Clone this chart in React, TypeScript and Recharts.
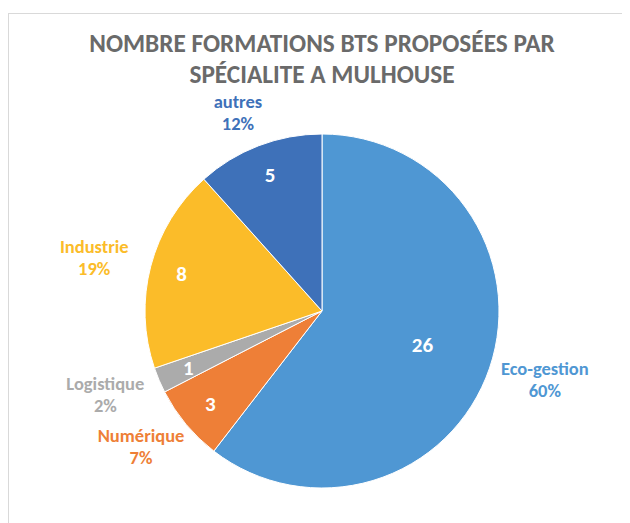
import React from "react";
import { PieChart, Pie, Cell } from "recharts";

const categories = ["Eco-gestion", "Numérique", "Logistique", "Industrie", "autres"];
const values = [26, 3, 1, 8, 5];
const percentLabels = ["60%", "7%", "2%", "19%", "12%"];
const colors = ["#4F97D3", "#EE7F37", "#ABABAB", "#FBBC29", "#3E71B9"];
const titleLines = ["NOMBRE FORMATIONS BTS PROPOSÉES PAR", "SPÉCIALITE A MULHOUSE"];

const data = categories.map((name, i) => ({ name, value: values[i], pct: percentLabels[i] }));

const FONT = "Carlito, 'Liberation Sans Narrow', 'Open Sans', sans-serif";
const RAD = Math.PI / 180;

const renderLabel = (props: any) => {
  const { cx, cy, midAngle, outerRadius, index, percent } = props;
  const inR = outerRadius * (percent > 0.5 ? 0.6 : 0.82);
  const ix = cx + inR * Math.cos(-midAngle * RAD);
  const iy = cy + inR * Math.sin(-midAngle * RAD);
  const ox = cx + outerRadius * 1.33 * Math.cos(-midAngle * RAD);
  const oy = cy + outerRadius * 1.2 * Math.sin(-midAngle * RAD);
  const c = colors[index];
  return (
    <g>
      <text x={ix} y={iy} fill="#fff" textAnchor="middle" dominantBaseline="central"
        style={{ fontFamily: FONT, fontWeight: 700, fontSize: 21 }}>
        {values[index]}
      </text>
      <text x={ox} y={oy - 11} fill={c} textAnchor="middle" dominantBaseline="central"
        style={{ fontFamily: FONT, fontWeight: 700, fontSize: 18.5 }}>
        {categories[index]}
      </text>
      <text x={ox} y={oy + 11} fill={c} textAnchor="middle" dominantBaseline="central"
        style={{ fontFamily: FONT, fontWeight: 700, fontSize: 18.5 }}>
        {percentLabels[index]}
      </text>
    </g>
  );
};

export default function App() {
  return (
    <div style={{ position: "relative", marginTop: 5, width: 622, height: 510, borderTop: "1px solid #d9d9d9", borderLeft: "1px solid #d9d9d9", boxSizing: "border-box", background: "#fff" }}>
      <div style={{ position: "absolute", left: 0, top: 14, width: 626, textAlign: "center", fontFamily: FONT, fontWeight: 700, fontSize: 25.3, color: "#6A6A6A", lineHeight: "31px" }}>
        {titleLines.map((t) => (<div key={t}>{t}</div>))}
      </div>
      <div style={{ position: "absolute", left: 0, top: 0 }}>
        <PieChart width={620} height={508} margin={{ top: 0, right: 0, bottom: 0, left: 0 }}>
          <Pie
            data={data}
            dataKey="value"
            nameKey="name"
            cx={313}
            cy={297}
            outerRadius={177}
            startAngle={90}
            endAngle={-270}
            stroke="#fff"
            strokeWidth={1}
            isAnimationActive={false}
            label={renderLabel}
            labelLine={false}
          >
            {data.map((d, i) => (<Cell key={d.name} fill={colors[i]} />))}
          </Pie>
        </PieChart>
      </div>
    </div>
  );
}
